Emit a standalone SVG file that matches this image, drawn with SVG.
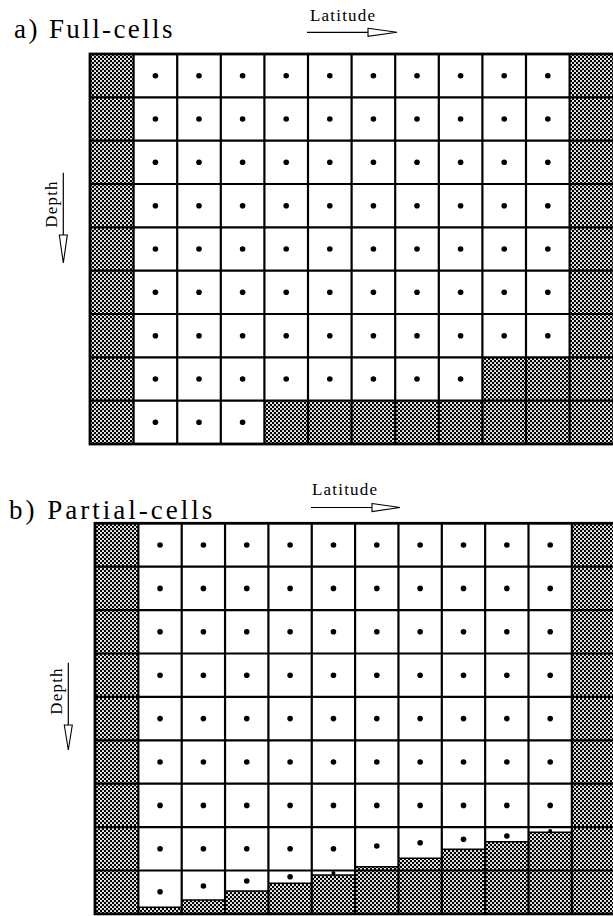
<svg xmlns="http://www.w3.org/2000/svg" width="613" height="916" viewBox="0 0 613 916">
<defs>
<pattern id="hatch" width="4" height="4" patternUnits="userSpaceOnUse">
<rect width="4" height="4" fill="#000"/>
<circle cx="1" cy="1" r="1.05" fill="#fff"/>
<circle cx="3" cy="3" r="1.05" fill="#fff"/>
</pattern>
<style>
.sh{fill:url(#hatch);stroke:none}
.wh{fill:#fff;stroke:none}
.gl{stroke:#000;stroke-width:2.2;fill:none}
.bd{stroke:#000;stroke-width:2.8;fill:none}
.pl{stroke:#000;stroke-width:1.6;fill:none}
.d{fill:#000}
.title{font-family:"Liberation Serif","Times New Roman",serif;font-size:27px;fill:#000}
.lab{font-family:"Liberation Serif","Times New Roman",serif;font-size:17px;letter-spacing:1.2px;fill:#000}
.ar{stroke:#000;stroke-width:1.2;fill:none}
.ah{stroke:#000;stroke-width:1.1;fill:#fff}
</style>
</defs>
<rect width="613" height="916" fill="#fff"/>

<g id="panel-a">
<text class="title" x="14" y="38" letter-spacing="2.4">a) Full-cells</text>
<g id="a-shading">
<rect class="sh" x="90" y="54" width="43.6" height="390"/>
<rect class="sh" x="569.6" y="54" width="43.6" height="390"/>
<rect class="sh" x="482.4" y="357.3" width="87.2" height="43.4"/>
<rect class="sh" x="264.4" y="400.7" width="305.2" height="43.3"/>
</g>
<g id="a-grid">
<path class="gl" d="M133.6 54V444M177.2 54V444M220.8 54V444M264.4 54V444M308 54V444M351.6 54V444M395.2 54V444M438.8 54V444M482.4 54V444M526 54V444M569.6 54V444"/>
<path class="gl" d="M90 97.3H613M90 140.7H613M90 184H613M90 227.3H613M90 270.7H613M90 314H613M90 357.3H613M90 400.7H613"/>
<rect class="bd" x="90" y="54" width="524" height="390"/>
</g>
<g id="a-dots">
<g id="a-r0"><circle class="d" cx="155.4" cy="75.7" r="2.8"/><circle class="d" cx="199" cy="75.7" r="2.8"/><circle class="d" cx="242.6" cy="75.7" r="2.8"/><circle class="d" cx="286.2" cy="75.7" r="2.8"/><circle class="d" cx="329.8" cy="75.7" r="2.8"/><circle class="d" cx="373.4" cy="75.7" r="2.8"/><circle class="d" cx="417" cy="75.7" r="2.8"/><circle class="d" cx="460.6" cy="75.7" r="2.8"/><circle class="d" cx="504.2" cy="75.7" r="2.8"/><circle class="d" cx="547.8" cy="75.7" r="2.8"/></g>
<g id="a-r1"><circle class="d" cx="155.4" cy="119" r="2.8"/><circle class="d" cx="199" cy="119" r="2.8"/><circle class="d" cx="242.6" cy="119" r="2.8"/><circle class="d" cx="286.2" cy="119" r="2.8"/><circle class="d" cx="329.8" cy="119" r="2.8"/><circle class="d" cx="373.4" cy="119" r="2.8"/><circle class="d" cx="417" cy="119" r="2.8"/><circle class="d" cx="460.6" cy="119" r="2.8"/><circle class="d" cx="504.2" cy="119" r="2.8"/><circle class="d" cx="547.8" cy="119" r="2.8"/></g>
<g id="a-r2"><circle class="d" cx="155.4" cy="162.3" r="2.8"/><circle class="d" cx="199" cy="162.3" r="2.8"/><circle class="d" cx="242.6" cy="162.3" r="2.8"/><circle class="d" cx="286.2" cy="162.3" r="2.8"/><circle class="d" cx="329.8" cy="162.3" r="2.8"/><circle class="d" cx="373.4" cy="162.3" r="2.8"/><circle class="d" cx="417" cy="162.3" r="2.8"/><circle class="d" cx="460.6" cy="162.3" r="2.8"/><circle class="d" cx="504.2" cy="162.3" r="2.8"/><circle class="d" cx="547.8" cy="162.3" r="2.8"/></g>
<g id="a-r3"><circle class="d" cx="155.4" cy="205.7" r="2.8"/><circle class="d" cx="199" cy="205.7" r="2.8"/><circle class="d" cx="242.6" cy="205.7" r="2.8"/><circle class="d" cx="286.2" cy="205.7" r="2.8"/><circle class="d" cx="329.8" cy="205.7" r="2.8"/><circle class="d" cx="373.4" cy="205.7" r="2.8"/><circle class="d" cx="417" cy="205.7" r="2.8"/><circle class="d" cx="460.6" cy="205.7" r="2.8"/><circle class="d" cx="504.2" cy="205.7" r="2.8"/><circle class="d" cx="547.8" cy="205.7" r="2.8"/></g>
<g id="a-r4"><circle class="d" cx="155.4" cy="249" r="2.8"/><circle class="d" cx="199" cy="249" r="2.8"/><circle class="d" cx="242.6" cy="249" r="2.8"/><circle class="d" cx="286.2" cy="249" r="2.8"/><circle class="d" cx="329.8" cy="249" r="2.8"/><circle class="d" cx="373.4" cy="249" r="2.8"/><circle class="d" cx="417" cy="249" r="2.8"/><circle class="d" cx="460.6" cy="249" r="2.8"/><circle class="d" cx="504.2" cy="249" r="2.8"/><circle class="d" cx="547.8" cy="249" r="2.8"/></g>
<g id="a-r5"><circle class="d" cx="155.4" cy="292.3" r="2.8"/><circle class="d" cx="199" cy="292.3" r="2.8"/><circle class="d" cx="242.6" cy="292.3" r="2.8"/><circle class="d" cx="286.2" cy="292.3" r="2.8"/><circle class="d" cx="329.8" cy="292.3" r="2.8"/><circle class="d" cx="373.4" cy="292.3" r="2.8"/><circle class="d" cx="417" cy="292.3" r="2.8"/><circle class="d" cx="460.6" cy="292.3" r="2.8"/><circle class="d" cx="504.2" cy="292.3" r="2.8"/><circle class="d" cx="547.8" cy="292.3" r="2.8"/></g>
<g id="a-r6"><circle class="d" cx="155.4" cy="335.7" r="2.8"/><circle class="d" cx="199" cy="335.7" r="2.8"/><circle class="d" cx="242.6" cy="335.7" r="2.8"/><circle class="d" cx="286.2" cy="335.7" r="2.8"/><circle class="d" cx="329.8" cy="335.7" r="2.8"/><circle class="d" cx="373.4" cy="335.7" r="2.8"/><circle class="d" cx="417" cy="335.7" r="2.8"/><circle class="d" cx="460.6" cy="335.7" r="2.8"/><circle class="d" cx="504.2" cy="335.7" r="2.8"/><circle class="d" cx="547.8" cy="335.7" r="2.8"/></g>
<g id="a-r7"><circle class="d" cx="155.4" cy="379" r="2.8"/><circle class="d" cx="199" cy="379" r="2.8"/><circle class="d" cx="242.6" cy="379" r="2.8"/><circle class="d" cx="286.2" cy="379" r="2.8"/><circle class="d" cx="329.8" cy="379" r="2.8"/><circle class="d" cx="373.4" cy="379" r="2.8"/><circle class="d" cx="417" cy="379" r="2.8"/><circle class="d" cx="460.6" cy="379" r="2.8"/></g>
<g id="a-r8"><circle class="d" cx="155.4" cy="422.3" r="2.8"/><circle class="d" cx="199" cy="422.3" r="2.8"/><circle class="d" cx="242.6" cy="422.3" r="2.8"/></g>
</g>
</g>

<g id="panel-b">
<text class="title" x="9" y="519" font-size="28" letter-spacing="3">b) Partial-cells</text>
<g id="b-shading">
<rect class="sh" x="95" y="523.3" width="43.35" height="390.6"/>
<rect class="sh" x="571.85" y="523.3" width="42" height="390.6"/>
<rect class="sh" x="138.35" y="827.1" width="433.5" height="86.8"/>
</g>
<g id="b-partial">
<rect class="wh" x="138.35" y="827.1" width="216.75" height="43.4"/>
<rect class="wh" x="355.1" y="827.1" width="43.35" height="39.6"/>
<rect class="wh" x="398.45" y="827.1" width="43.35" height="31.2"/>
<rect class="wh" x="441.8" y="827.1" width="43.35" height="22.2"/>
<rect class="wh" x="485.15" y="827.1" width="43.35" height="14.6"/>
<rect class="wh" x="528.5" y="827.1" width="43.35" height="5.2"/>
<rect class="wh" x="138.35" y="870.5" width="43.35" height="36.8"/>
<rect class="wh" x="181.7" y="870.5" width="43.35" height="29.5"/>
<rect class="wh" x="225.05" y="870.5" width="43.35" height="20.5"/>
<rect class="wh" x="268.4" y="870.5" width="43.35" height="12.8"/>
<rect class="wh" x="311.75" y="870.5" width="43.35" height="4.5"/>
<path class="pl" d="M138.35 907.3H181.7M181.7 900H225.05M225.05 891H268.4M268.4 883.3H311.75M311.75 875H355.1M355.1 866.7H398.45M398.45 858.3H441.8M441.8 849.3H485.15M485.15 841.7H528.5M528.5 832.3H571.85"/>
</g>
<g id="b-grid">
<path class="gl" d="M138.35 523.3V913.9M181.7 523.3V913.9M225.05 523.3V913.9M268.4 523.3V913.9M311.75 523.3V913.9M355.1 523.3V913.9M398.45 523.3V913.9M441.8 523.3V913.9M485.15 523.3V913.9M528.5 523.3V913.9M571.85 523.3V913.9"/>
<path class="gl" d="M95 566.7H613M95 610.1H613M95 653.5H613M95 696.9H613M95 740.3H613M95 783.7H613M95 827.1H613M95 870.5H613"/>
<rect class="bd" x="95" y="523.3" width="520" height="390.6"/>
</g>
<g id="b-dots">
<g id="b-r0"><circle class="d" cx="160.05" cy="545" r="2.8"/><circle class="d" cx="203.4" cy="545" r="2.8"/><circle class="d" cx="246.75" cy="545" r="2.8"/><circle class="d" cx="290.1" cy="545" r="2.8"/><circle class="d" cx="333.45" cy="545" r="2.8"/><circle class="d" cx="376.8" cy="545" r="2.8"/><circle class="d" cx="420.15" cy="545" r="2.8"/><circle class="d" cx="463.5" cy="545" r="2.8"/><circle class="d" cx="506.85" cy="545" r="2.8"/><circle class="d" cx="550.2" cy="545" r="2.8"/></g>
<g id="b-r1"><circle class="d" cx="160.05" cy="588.4" r="2.8"/><circle class="d" cx="203.4" cy="588.4" r="2.8"/><circle class="d" cx="246.75" cy="588.4" r="2.8"/><circle class="d" cx="290.1" cy="588.4" r="2.8"/><circle class="d" cx="333.45" cy="588.4" r="2.8"/><circle class="d" cx="376.8" cy="588.4" r="2.8"/><circle class="d" cx="420.15" cy="588.4" r="2.8"/><circle class="d" cx="463.5" cy="588.4" r="2.8"/><circle class="d" cx="506.85" cy="588.4" r="2.8"/><circle class="d" cx="550.2" cy="588.4" r="2.8"/></g>
<g id="b-r2"><circle class="d" cx="160.05" cy="631.8" r="2.8"/><circle class="d" cx="203.4" cy="631.8" r="2.8"/><circle class="d" cx="246.75" cy="631.8" r="2.8"/><circle class="d" cx="290.1" cy="631.8" r="2.8"/><circle class="d" cx="333.45" cy="631.8" r="2.8"/><circle class="d" cx="376.8" cy="631.8" r="2.8"/><circle class="d" cx="420.15" cy="631.8" r="2.8"/><circle class="d" cx="463.5" cy="631.8" r="2.8"/><circle class="d" cx="506.85" cy="631.8" r="2.8"/><circle class="d" cx="550.2" cy="631.8" r="2.8"/></g>
<g id="b-r3"><circle class="d" cx="160.05" cy="675.2" r="2.8"/><circle class="d" cx="203.4" cy="675.2" r="2.8"/><circle class="d" cx="246.75" cy="675.2" r="2.8"/><circle class="d" cx="290.1" cy="675.2" r="2.8"/><circle class="d" cx="333.45" cy="675.2" r="2.8"/><circle class="d" cx="376.8" cy="675.2" r="2.8"/><circle class="d" cx="420.15" cy="675.2" r="2.8"/><circle class="d" cx="463.5" cy="675.2" r="2.8"/><circle class="d" cx="506.85" cy="675.2" r="2.8"/><circle class="d" cx="550.2" cy="675.2" r="2.8"/></g>
<g id="b-r4"><circle class="d" cx="160.05" cy="718.6" r="2.8"/><circle class="d" cx="203.4" cy="718.6" r="2.8"/><circle class="d" cx="246.75" cy="718.6" r="2.8"/><circle class="d" cx="290.1" cy="718.6" r="2.8"/><circle class="d" cx="333.45" cy="718.6" r="2.8"/><circle class="d" cx="376.8" cy="718.6" r="2.8"/><circle class="d" cx="420.15" cy="718.6" r="2.8"/><circle class="d" cx="463.5" cy="718.6" r="2.8"/><circle class="d" cx="506.85" cy="718.6" r="2.8"/><circle class="d" cx="550.2" cy="718.6" r="2.8"/></g>
<g id="b-r5"><circle class="d" cx="160.05" cy="762" r="2.8"/><circle class="d" cx="203.4" cy="762" r="2.8"/><circle class="d" cx="246.75" cy="762" r="2.8"/><circle class="d" cx="290.1" cy="762" r="2.8"/><circle class="d" cx="333.45" cy="762" r="2.8"/><circle class="d" cx="376.8" cy="762" r="2.8"/><circle class="d" cx="420.15" cy="762" r="2.8"/><circle class="d" cx="463.5" cy="762" r="2.8"/><circle class="d" cx="506.85" cy="762" r="2.8"/><circle class="d" cx="550.2" cy="762" r="2.8"/></g>
<g id="b-r6"><circle class="d" cx="160.05" cy="805.4" r="2.8"/><circle class="d" cx="203.4" cy="805.4" r="2.8"/><circle class="d" cx="246.75" cy="805.4" r="2.8"/><circle class="d" cx="290.1" cy="805.4" r="2.8"/><circle class="d" cx="333.45" cy="805.4" r="2.8"/><circle class="d" cx="376.8" cy="805.4" r="2.8"/><circle class="d" cx="420.15" cy="805.4" r="2.8"/><circle class="d" cx="463.5" cy="805.4" r="2.8"/><circle class="d" cx="506.85" cy="805.4" r="2.8"/><circle class="d" cx="550.2" cy="805.4" r="2.8"/></g>
<g id="b-r7"><circle class="d" cx="160.05" cy="848.8" r="2.8"/><circle class="d" cx="203.4" cy="848.8" r="2.8"/><circle class="d" cx="246.75" cy="848.8" r="2.8"/><circle class="d" cx="290.1" cy="848.8" r="2.8"/><circle class="d" cx="333.45" cy="848.8" r="2.8"/><circle class="d" cx="376.8" cy="846" r="2.8"/><circle class="d" cx="420.15" cy="842.7" r="2.8"/><circle class="d" cx="463.5" cy="839.3" r="2.8"/><circle class="d" cx="506.85" cy="836" r="2.8"/><circle class="d" cx="550.2" cy="831" r="2"/></g>
<g id="b-r8"><circle class="d" cx="160.05" cy="891.7" r="2.8"/><circle class="d" cx="203.4" cy="886" r="2.8"/><circle class="d" cx="246.75" cy="881" r="2.8"/><circle class="d" cx="290.1" cy="876.7" r="2.8"/><circle class="d" cx="333.45" cy="873" r="2"/></g>
</g>
</g>

<g id="labels">
<text class="lab" x="310" y="20.5">Latitude</text>
<text class="lab" x="312" y="495">Latitude</text>
<text class="lab" transform="translate(57 204) rotate(-90)" text-anchor="middle">Depth</text>
<text class="lab" transform="translate(61.5 691) rotate(-90)" text-anchor="middle">Depth</text>
</g>

<g id="connectors">
<path class="ar" d="M307 32.3H368"/>
<polygon class="ah" points="368,28.3 397,32.3 368,36.3"/>
<path class="ar" d="M311 507.5H372"/>
<polygon class="ah" points="372,503.5 400,507.5 372,511.5"/>
<path class="ar" d="M63.3 172.7V235"/>
<polygon class="ah" points="59.3,235 63.3,263 67.3,235"/>
<path class="ar" d="M68.3 662.7V725"/>
<polygon class="ah" points="64.3,725 68.3,750 72.3,725"/>
</g>
</svg>
